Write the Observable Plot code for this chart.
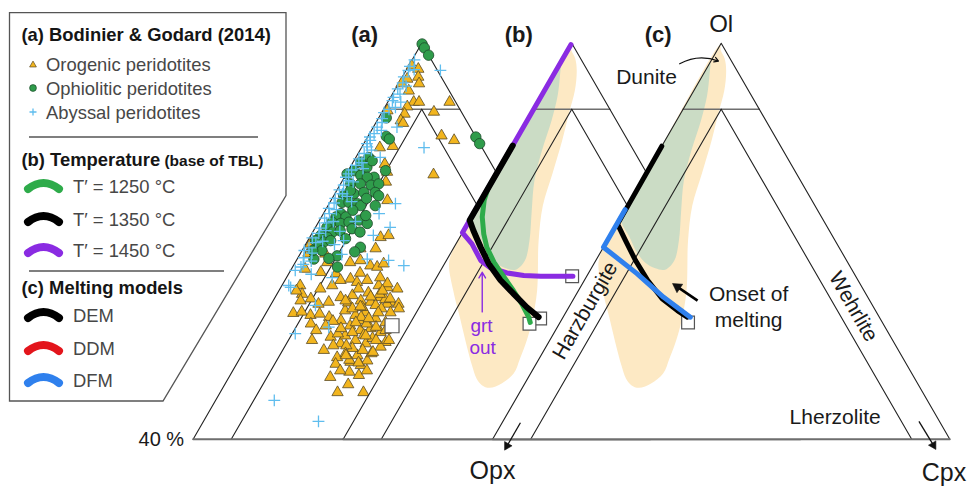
<!DOCTYPE html>
<html><head><meta charset="utf-8">
<script src="https://cdn.jsdelivr.net/npm/d3@7"></script>
<script src="https://cdn.jsdelivr.net/npm/@observablehq/plot@0.6"></script>
<style>
html,body{margin:0;padding:0;background:#fff;}
#wrap{position:relative;width:968px;height:486px;overflow:hidden;}
#wrap svg{display:block;}
</style></head><body>
<div id="wrap"></div>
<script>
// ---------- DATA (ternary values: [Ol %, Cpx %], Opx = 100 - Ol - Cpx) ----------
const orogenic = [
 [96.6,0.4],[96.1,1.5],[94.6,0.8],[94.9,2.1],[93.9,2.7],[93.9,0.4],[92.8,1.9],[91.1,3.4],[91.1,4.1],[90.4,2.9],
 [91.1,8.1],[89.6,6.8],[89.8,0.6],[89.3,3.1],[88.3,3.1],[87.9,3.6],[86.0,9.6],[85.3,11.6],[84.2,2.4],[84.4,4.0],
 [81.7,4.3],[80.5,5.2],[80.1,11.5],[79.0,5.8],[76.2,7.4],[70.6,9.3],[70.9,10.2],[68.9,9.5],[69.6,0.6],[68.3,1.0],
 [68.1,3.3],[66.8,4.2],[65.8,1.8],[65.3,4.1],[65.1,6.2],[66.8,7.2],[67.1,8.4],[66.3,10.1],[66.1,11.1],[66.6,11.7],
 [62.8,15.4],[63.0,14.0],[64.1,7.3],[64.3,8.5],[63.8,9.6],[64.1,10.8],[63.3,6.6],[62.8,5.3],[63.3,2.4],[62.0,3.3],
 [61.3,4.8],[60.8,7.4],[61.5,8.6],[61.8,10.0],[61.0,11.5],[60.8,12.9],[61.5,13.8],[60.8,15.5],[60.5,16.7],[63.6,13.7],
 [68.9,7.5],[68.1,1.1],[59.1,3.6],[59.3,4.6],[62.5,2.3],[60.5,6.2],[58.8,6.0],[57.5,6.7],[59.0,7.1],[58.5,8.6],
 [55.5,10.3],[55.0,8.1],[53.5,10.4],[54.5,12.1],[52.4,12.7],[51.4,13.0],[49.4,13.3],[47.1,15.4],[50.2,15.4],[49.7,16.9],
 [47.1,18.8],[51.7,14.8],[51.2,16.4],[51.9,16.9],[52.7,15.2],[59.8,17.1],[60.5,15.2],[54.7,17.9],[54.0,17.6],[53.0,16.9],
 [50.4,17.6],[59.5,10.2],[58.8,11.9],[59.2,13.0],[58.3,14.8],[57.2,12.0],[56.5,13.7],[56.8,14.9],[56.2,16.5],[55.7,12.1],
 [55.0,13.8],[54.5,15.4],[55.3,15.9],[57.7,16.4],[59.2,16.3],[58.0,10.4],[58.0,13.2],[53.8,14.0],[60.3,13.8],[60.7,10.0],
 [62.2,11.9],[62.8,10.3],[63.3,12.7],[57.0,15.5],[56.0,11.0],[58.5,12.8],[57.5,14.0],[55.8,14.5],[54.2,13.0],[53.0,13.5],
 [52.0,14.5],[56.8,17.2],[59.8,14.8],[61.2,14.6],[60.0,12.2],[57.9,9.4],[62.0,13.5],[64.5,12.3],[65.2,9.3],
 [61.0,9.5],[59.8,11.0],[60.1,11.9],[58.3,13.9],[59.2,14.7],[56.5,17.0],[55.0,16.5],[53.5,15.5],[56.2,12.8],[56.8,11.0],
 [54.2,11.3],[52.7,13.7],[51.6,15.9],[53.2,17.0],[55.7,14.8],[57.7,12.5],[55.0,18.2],[61.3,15.2],[62.5,13.6],[61.6,12.5],
 [61.0,3.6],[56.5,7.9],[57.2,8.8],[50.4,14.1],[48.3,16.2]
];
const ophiolitic = [
 [99.9,0.1],[99.3,0.7],[98.2,1.8],[85.8,14.2],[84.8,15.2],
 [88.7,1.0],[85.9,2.4],[85.5,3.0],[82.7,1.7],[82.0,1.0],[81.2,2.2],[80.7,0.8],[80.0,2.0],[79.7,3.9],[80.2,0.1],
 [79.7,3.0],[78.7,1.3],[78.7,2.6],[78.5,4.1],[78.7,5.0],[76.9,1.3],[77.2,2.5],[77.4,3.7],[77.4,5.2],[76.9,5.9],
 [75.9,1.6],[75.9,2.5],[75.7,3.7],[75.4,4.3],[74.2,2.3],[73.7,1.9],[73.7,3.2],[72.9,1.8],[72.7,3.0],[72.9,4.0],
 [73.2,5.2],[72.7,6.5],[72.1,1.5],[71.4,2.6],[71.6,3.5],[71.9,4.9],[71.4,6.2],[70.9,1.3],[70.6,2.3],[70.1,1.0],
 [69.9,2.2],[69.1,1.9],[68.6,2.6],[69.1,7.4],[68.4,7.0],[67.3,2.2],[67.8,5.0],[66.1,5.9],
 [82.2,2.4],[77.7,1.8],[76.5,4.5],[74.7,3.6],[70.1,3.0],[70.4,4.8],[68.6,1.4],[67.4,4.1],[80.7,4.9],[75.4,6.2],[73.9,5.7]
];
const abyssal = [
 [97.5,0.3],[96.5,0.2],[95.9,0.3],[95.9,4.5],[94.9,0.2],[94.0,0.5],[93.1,0.3],[92.3,1.0],[91.8,0.4],[91.3,0.5],
 [91.1,1.7],[90.3,1.4],[89.5,0.3],[88.6,0.5],[88.0,0.8],[87.3,0.5],[87.3,3.1],[86.3,0.6],[85.8,0.3],[85.3,0.6],
 [84.8,0.4],[84.3,0.7],[84.2,8.2],[83.3,0.8],[82.7,3.2],[82.5,0.5],[81.9,1.2],[81.5,0.6],[80.8,0.4],[80.2,0.3],
 [79.7,0.2],[79.2,0.8],[78.5,0.5],[77.8,0.3],[77.2,1.0],[76.5,0.4],[75.8,0.6],[75.0,0.3],[74.2,0.8],[73.5,0.5],
 [72.8,1.1],[72.0,0.6],[71.2,0.9],[70.5,0.4],[69.8,1.2],[69.0,0.7],[68.2,1.5],[67.5,0.8],[66.5,1.2],
 [75.7,8.7],[74.2,7.3],[72.1,9.8],[70.9,8.2],[66.3,14.5],[67.1,12.1],[67.3,9.2],[66.1,1.1],[63.0,1.3],[70.1,4.7],
 [63.3,0.9],[56.0,5.4],[57.0,9.3],[45.9,7.7],[42.7,15.1],[60.3,5.9],[71.5,3.5],[73.0,4.8],[76.0,2.8],[69.5,3.8],
 [68.0,5.5],[65.0,3.0],[64.5,6.0],[96.0,1.0],[93.5,1.2],[90.0,0.7],[86.8,1.3],[83.8,1.5],[81.0,1.8],[79.0,1.5],
 [76.8,1.8],[74.8,1.4],[73.0,1.9],[71.6,1.6],[70.0,2.0],[68.6,0.3],[67.0,2.0],[65.6,0.6]
];
const startA = [[57.2,17.5]];

// shaded fields in (b) and (c)
const fieldOuter = [[98.9,0.5],[97.7,1.6],[95.9,2.7],[92.8,4.0],[89.5,4.9],[85.3,6.1],[80.4,7.3],[75.4,8.5],[70.1,10.6],
 [62.5,14.2],[58.0,15.8],[55.0,16.6],[52.2,17.1],[50.0,17.4],[48.5,16.6],[47.8,15.3],[48.2,14.1],[49.2,12.9],[51.2,11.3],
 [54.2,9.1],[58.3,6.2],[62.5,3.2],[66.8,0.5],[69.4,0],[71.6,0],[73.6,0],[83.8,0],[99.7,0]];
const fieldInner = [[97.1,0],[95.1,0.9],[92.1,2.1],[88.3,3.2],[83.8,4.2],[79.2,5.5],[74.7,7.4],[70.1,9.4],[67.1,10.3],
 [65.7,9.8],[65.9,8.4],[66.8,6.6],[68.3,4.8],[70.7,2.6],[73.2,0.3],[76.2,0],[91.3,0],[95.6,0]];

// (b) temperature models
const t1450 = [[99.8,0],[71.3,0],[69.6,2.1],[67.1,4.5],[66.0,6.3],[65.2,8.9],[64.8,11.3],[64.7,13.6],[64.7,17.8]];
const t1350 = [[84.5,0],[73.2,0],[71.6,1.3],[69.1,3.5],[66.6,5.8],[64.1,8.6],[62.0,11.4],[60.0,14.1],[58.5,16.4]];
const t1250 = [[78.0,0],[76.2,0.4],[73.7,1.4],[71.1,2.9],[69.1,4.3],[66.8,6.4],[64.6,8.8],[62.5,11.1],[60.5,13.2],[58.5,15.1],[57.7,15.7]];
const startB = [[58.3,16.7],[57.5,15.7],[64.7,17.7]];

// (c) melting models
const dem = [[84.4,0],[72.6,0.1],[70.1,2.4],[67.1,5.2],[64.1,8.3],[61.3,11.6],[59.5,14.5],[58.5,16.3]];
const dfm = [[74.8,0],[69.1,0],[65.1,6.4],[61.5,11.7],[58.5,16.7]];
const startC = [[57.7,16.8]];

// classification diagram (IUGS peridotites, truncated at 40 % Ol)
const outerSides = [[40,0],[100,0],[40,60]];
const baseLine = [[40,0],[40,60]];
const duniteLine = [[90,0],[90,10]];
const cpx5Line = [[90,5],[40,5]];
const opx5Line = [[90,5],[40,55]];

const legendA = ["Orogenic peridotites","Ophiolitic peridotites","Abyssal peridotites"];
const legendB = ["T\u2032 = 1250 °C","T\u2032 = 1350 °C","T\u2032 = 1450 °C"];
const legendC = ["DEM","DDM","DFM"];

// ---------- GEOMETRY ----------
const H = Math.sqrt(3) / 2;
const panelShift = {a: -0.393, b: -0.1961, c: 0};
const tern = (ol, cpx, p) => { const opx = 100 - ol - cpx; return {x: panelShift[p] + (cpx - opx) / 200, y: H * ol / 100}; };
const pts = (arr, p) => arr.map(([ol, cpx]) => tern(ol, cpx, p));

const W = 968, HT = 486, SIDE = 762, AX = 720.7, AY = 42.8;
const xDomain = [-AX / SIDE, (W - AX) / SIDE];
const yDomain = [H - (HT - AY) / SIDE, H + AY / SIDE];
const FONT = "'Liberation Sans', Arial, Helvetica, sans-serif";

const C = {tri: "#f2b51e", triS: "#5a4b26", circ: "#2f9c4b", circS: "#1d4a2b", plus: "#5fbdee",
  yellow: "#fde9c4", green: "#cbdcc5", purple: "#8a2be2", lgreen: "#2eab4a", blue: "#2f80ed", red: "#e3151c"};

const marks = [];
const L = (arr, p, o) => Plot.line(pts(arr, p), {x: "x", y: "y", ...o});
function frame(p) {
  marks.push(
    L(duniteLine, p, {stroke: "#6e6e6e", strokeWidth: 1.6}),
    L(outerSides, p, {stroke: "#222", strokeWidth: 1.1}),
    L(cpx5Line, p, {stroke: "#222", strokeWidth: 1.1}),
    L(opx5Line, p, {stroke: "#222", strokeWidth: 1.1}),
    L(baseLine, p, {stroke: "#6e6e6e", strokeWidth: 1.8})
  );
}
function cover(p) {
  marks.push(L(outerSides, p, {fill: "white", stroke: "none", curve: "linear-closed"}));
}
function fields(p) {
  marks.push(
    L(fieldOuter, p, {fill: C.yellow, stroke: "none", curve: "catmull-rom-closed"}),
    L(fieldInner, p, {fill: C.green, stroke: "none", curve: "catmull-rom-closed"})
  );
}
const squares = (arr, p, r) => Plot.dot(pts(arr, p), {x: "x", y: "y", symbol: "square", r, fill: "white", stroke: "#555", strokeWidth: 1.2});
const label = (ol, cpx, p, text, o) => Plot.text([{...tern(ol, cpx, p), text}], {x: "x", y: "y", text: "text", fill: "#1a1a1a", ...o});
const seg = (a, b, p) => { const s = tern(a[0], a[1], p), e = tern(b[0], b[1], p); return [{x1: s.x, y1: s.y, x2: e.x, y2: e.y}]; };
const arrow = (a, b, p, o) => Plot.arrow(seg(a, b, p), {x1: "x1", y1: "y1", x2: "x2", y2: "y2", ...o});
const shaft = (a, b, p, o) => Plot.link(seg(a, b, p), {x1: "x1", y1: "y1", x2: "x2", y2: "y2", ...o});
const head = (at, p, rotate, r) => Plot.dot([tern(at[0], at[1], p)], {x: "x", y: "y", symbol: "triangle", rotate, r, fill: "#111", stroke: "#111", strokeWidth: 0.5});

// (a)
frame("a");
marks.push(
  Plot.dot(pts(orogenic, "a"), {x: "x", y: "y", symbol: "triangle", r: 4.2, fill: C.tri, stroke: C.triS, strokeWidth: 0.8}),
  Plot.dot(pts(ophiolitic, "a"), {x: "x", y: "y", r: 5.2, fill: C.circ, stroke: C.circS, strokeWidth: 0.8}),
  Plot.dot(pts(abyssal, "a"), {x: "x", y: "y", symbol: "plus", r: 3.9, stroke: C.plus, strokeWidth: 1.3}),
  squares(startA, "a", 7.9)
);
// (b)
cover("b"); fields("b"); frame("b");
marks.push(
  squares(startB, "b", 7.2),
  L(t1450, "b", {stroke: C.purple, strokeWidth: 5}),
  L(t1250, "b", {stroke: C.lgreen, strokeWidth: 5}),
  L(t1350, "b", {stroke: "#000", strokeWidth: 6}),
  arrow([59.3, 8.6], [65.3, 5.6], "b", {stroke: C.purple, strokeWidth: 1.4, headLength: 7}),
  label(57.1, 9.6, "b", "grt", {fill: C.purple, fontSize: 19}),
  label(53.8, 11.4, "b", "out", {fill: C.purple, fontSize: 19})
);
// (c)
cover("c"); fields("c"); frame("c");
marks.push(
  squares(startC, "c", 7.2),
  L(dem, "c", {stroke: "#000", strokeWidth: 5}),
  L(dfm, "c", {stroke: C.blue, strokeWidth: 5}),
  shaft([61.0, 16.4], [63.1, 12.7], "c", {stroke: "#000", strokeWidth: 2.6}),
  head([63.1, 12.7], "c", 304, 3.8),
  arrow([96.9, -3.9], [97.3, 1.0], "c", {stroke: "#111", strokeWidth: 1.2, headLength: 6, bend: 25}),
  shaft([42.5, 2.4], [39.0, 2.4], "c", {stroke: "#111", strokeWidth: 1.3}),
  head([39.0, 2.4], "c", 210, 3.2),
  shaft([42.7, 54.6], [39.1, 58.3], "c", {stroke: "#111", strokeWidth: 1.3}),
  head([39.1, 58.3], "c", 150, 3.2),
  label(94.8, -7.2, "c", "Dunite", {fontSize: 21}),
  label(60.2, 23.5, "c", "Onset of\nmelting", {fontSize: 21, lineHeight: 1.2}),
  label(59.5, 2.4, "c", "Harzburgite", {fontSize: 21, rotate: -60}),
  label(60.1, 37.3, "c", "Wehrlite", {fontSize: 21, rotate: 60}),
  label(43.3, 43.3, "c", "Lherzolite", {fontSize: 21}),
  label(100, 0, "c", "Ol", {fontSize: 24, dy: -18.5}),
  label(38.2, 2.4, "c", "Opx", {fontSize: 25, dx: -11.5, dy: 20}),
  label(38.3, 59.1, "c", "Cpx", {fontSize: 25, dx: 7.5, dy: 23}),
  label(40, 0, "a", "40 %", {fontSize: 20, textAnchor: "end", dx: -9}),
  label(100, 0, "a", "(a)", {fontSize: 22, fontWeight: "bold", dx: -57, dy: -8}),
  label(100, 0, "b", "(b)", {fontSize: 22, fontWeight: "bold", dx: -53, dy: -8}),
  label(100, 0, "c", "(c)", {fontSize: 22, fontWeight: "bold", dx: -63, dy: -8})
);

const chart = Plot.plot({
  width: W, height: HT, margin: 0,
  x: {domain: xDomain, range: [0, W], axis: null},
  y: {domain: yDomain, range: [HT, 0], axis: null},
  style: {fontFamily: FONT, background: "white"},
  marks
});
const wrap = document.getElementById("wrap");
wrap.appendChild(chart);

// ---------- LEGEND ----------
const lg = d3.select(wrap).append("svg").attr("width", 300).attr("height", 410)
  .style("position", "absolute").style("left", "0px").style("top", "0px")
  .attr("font-family", FONT);
lg.append("path").attr("d", "M9.5,12.7H286V195.5L163,401H9.5Z").attr("fill", "white").attr("stroke", "#555").attr("stroke-width", 1.3);
const title = (y, t, sub) => { const tx = lg.append("text").attr("x", 21.5).attr("y", y).attr("font-size", 18.4).attr("font-weight", "bold").attr("fill", "#151515").text(t);
  if (sub) tx.append("tspan").attr("font-size", 15.5).text(sub); };
const item = (x, y, t) => lg.append("text").attr("x", x).attr("y", y).attr("font-size", 18.4).attr("fill", "#474747").text(t);
const sep = (y, x2) => lg.append("line").attr("x1", 29).attr("x2", x2).attr("y1", y).attr("y2", y).attr("stroke", "#555").attr("stroke-width", 1.3);
const swoosh = (cy, color) => lg.append("path").attr("d", `M28,${cy + 3} Q43.5,${cy - 9} 59,${cy + 3}`).attr("fill", "none").attr("stroke", color).attr("stroke-width", 8).attr("stroke-linecap", "round");

title(41, "(a) Bodinier & Godard (2014)");
const rowsA = [64, 88, 112];
legendA.forEach((t, i) => item(46, rowsA[i] + 6.5, t));
lg.append("path").attr("d", d3.symbol(d3.symbolTriangle, 20)()).attr("transform", `translate(33,${rowsA[0] + 1})`).attr("fill", C.tri).attr("stroke", C.triS).attr("stroke-width", 0.7);
lg.append("circle").attr("cx", 33).attr("cy", rowsA[1]).attr("r", 3.4).attr("fill", C.circ).attr("stroke", C.circS).attr("stroke-width", 0.7);
lg.append("path").attr("d", "M29.5,112H36.5M33,108.5V115.5").attr("transform", `translate(0,${rowsA[2] - 112})`).attr("stroke", C.plus).attr("stroke-width", 1.3);
sep(137, 258);
title(166, "(b) Temperature", " (base of TBL)");
const rowsB = [186, 219, 250], colB = [C.lgreen, "#000", C.purple];
legendB.forEach((t, i) => { swoosh(rowsB[i], colB[i]); item(73, rowsB[i] + 6.5, t); });
sep(271, 224);
title(294, "(c) Melting models");
const rowsC = [315, 348, 380], colC = ["#000", C.red, C.blue];
legendC.forEach((t, i) => { swoosh(rowsC[i], colC[i]); item(73, rowsC[i] + 6.5, t); });
</script></body></html>
